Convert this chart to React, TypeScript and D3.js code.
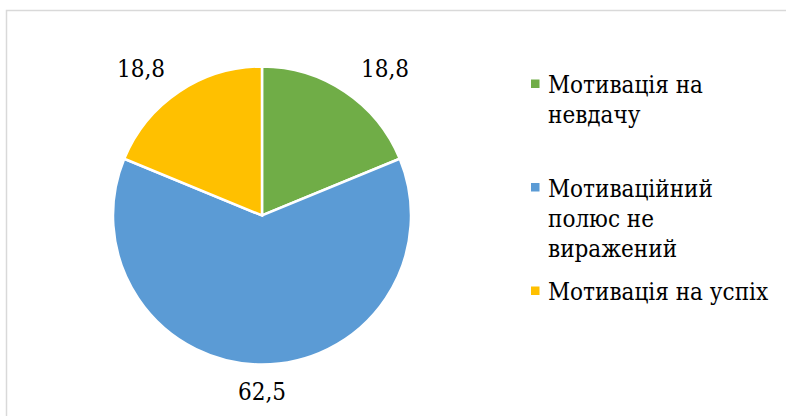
import React from "react";
import * as d3 from "d3";

// Share of respondents by motivation type, %
const categories = ["Мотивація на невдачу", "Мотиваційний полюс не виражений", "Мотивація на успіх"];
const values = [18.8, 62.5, 18.8];
const valueLabels = ["18,8", "62,5", "18,8"];
const colors = ["#70AD47", "#5B9BD5", "#FFC000"];
// Legend text wrapped as in the chart area
const legendLines = [
  ["Мотивація на", "невдачу"],
  ["Мотиваційний", "полюс не", "виражений"],
  ["Мотивація на успіх"],
];

const W = 786;
const H = 416;
const cx = 262;
const cy = 215.5;
const radius = 149;
const textStyle: React.CSSProperties = {
  fontFamily: '"DejaVu Serif Condensed", "DejaVu Serif", serif',
  fontStretch: "condensed",
  fontSize: "24px",
};

export default function App() {
  const pie = d3
    .pie<number>()
    .sort(null)
    .value((d) => d);
  const arcs = pie(values);
  const arc = d3.arc<d3.PieArcDatum<number>>().innerRadius(0).outerRadius(radius);
  const labelR = radius + 18;

  const legendX = 531;
  const legendTop = 69;
  const slot = 103.5;
  const lineH = 30;

  return (
    <svg
      width={W}
      height={H}
      style={{ position: "absolute", left: 0, top: 0, background: "#fff" }}
    >
      <rect x={6.5} y={10.5} width={W + 10} height={H + 10} fill="#fff" stroke="#d9d9d9" strokeWidth={1.5} />
      <g transform={`translate(${cx},${cy})`}>
        {arcs.map((a, i) => (
          <path key={i} d={arc(a) as string} fill={colors[i]} stroke="#fff" strokeWidth={2.5} strokeLinejoin="miter" />
        ))}
        {arcs.map((a, i) => {
          const mid = (a.startAngle + a.endAngle) / 2;
          const s = Math.sin(mid);
          const c = Math.cos(mid);
          const px = labelR * s;
          const py = -labelR * c;
          const anchor = Math.abs(s) < 0.1 ? "middle" : s > 0 ? "start" : "end";
          const dx = anchor === "middle" ? 0 : s > 0 ? 6 : -4;
          const dy = c > 0 ? 0 : 17;
          return (
            <text key={i} x={px + dx} y={py + dy} textAnchor={anchor} style={textStyle} fill="#000">
              {valueLabels[i]}
            </text>
          );
        })}
      </g>
      <g>
        {categories.map((cat, i) => {
          const top = legendTop + i * slot;
          return (
            <g key={cat}>
              <rect x={legendX} y={top + 10.5} width={8.5} height={8.5} fill={colors[i]} />
              {legendLines[i].map((ln, j) => (
                <text key={j} x={legendX + 17} y={top + 24 + j * lineH} style={textStyle} fill="#000">
                  {ln}
                </text>
              ))}
            </g>
          );
        })}
      </g>
    </svg>
  );
}
